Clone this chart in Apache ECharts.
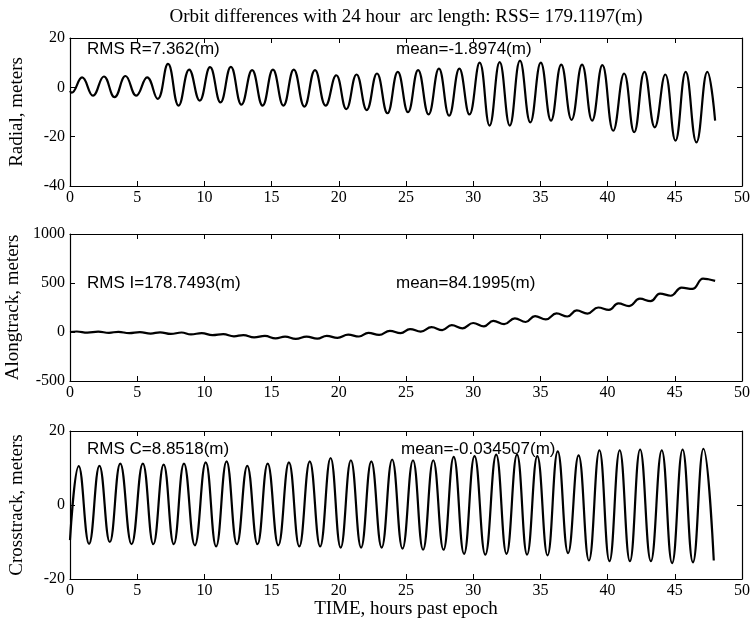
<!DOCTYPE html>
<html><head><meta charset="utf-8">
<script src="https://cdn.jsdelivr.net/npm/echarts@6/dist/echarts.min.js"></script>
<style>html,body{margin:0;padding:0;background:#fff}#c{width:753px;height:629px}</style>
</head><body><div id="c"></div>
<script>
// ---- data (extrema of each curve) ----
const xTicks = [0, 5, 10, 15, 20, 25, 30, 35, 40, 45, 50];
const radialTicks = [-40, -20, 0, 20];
const alongTicks = [-500, 0, 500, 1000];
const crossTicks = [-20, 0, 20];

const radialTime = [0.00,0.12,0.90,1.71,2.52,3.32,4.13,4.93,5.74,6.52,7.29,8.08,8.87,9.65,10.42,11.20,11.97,12.76,13.55,14.33,15.10,15.88,16.65,17.44,18.23,19.02,19.81,20.56,21.32,22.08,22.84,23.62,24.39,25.15,25.90,26.68,27.45,28.21,28.97,29.72,30.48,31.22,31.97,32.72,33.48,34.25,35.03,35.79,36.55,37.32,38.10,38.85,39.61,40.42,41.23,41.98,42.74,43.51,44.29,45.05,45.81,46.61,47.42,48.00];
const radialValue = [-1.5,-2.2,4.0,-3.4,4.4,-4.0,4.6,-3.4,4.0,-4.7,9.5,-7.4,7.2,-5.4,8.2,-6.1,8.3,-7.0,7.0,-7.4,7.2,-7.4,7.2,-7.8,7.0,-7.4,4.9,-8.8,5.2,-9.2,5.6,-10.5,6.3,-10.1,7.0,-11.0,7.6,-11.5,7.6,-11.0,10.0,-15.5,10.2,-15.5,10.8,-14.2,10.0,-13.5,9.2,-13.2,9.2,-13.5,9.0,-17.6,5.6,-18.2,6.3,-16.2,5.2,-21.6,6.3,-22.3,6.3,-13.5];

const alongTime = [0.0,0.5,1.3,2.1,2.9,3.6,4.4,5.2,6.0,6.7,7.5,8.3,9.0,9.8,10.6,11.4,12.2,12.9,13.7,14.5,15.3,16.0,16.8,17.6,18.4,19.1,19.9,20.7,21.5,22.2,23.0,23.8,24.6,25.3,26.1,26.9,27.7,28.4,29.2,30.0,30.8,31.5,32.3,33.1,33.9,34.6,35.4,36.2,37.0,37.7,38.5,39.3,40.1,40.8,41.6,42.4,43.2,43.9,44.7,45.5,46.3,47.1,47.5,48.0];
const alongValue = [0,5,-6,3,-8,2,-12,-2,-16,-3,-20,-5,-24,-12,-32,-22,-44,-31,-55,-40,-65,-47,-70,-47,-68,-40,-60,-27,-46,-8,-30,12,-12,30,4,49,20,70,38,92,58,114,80,140,102,162,128,190,158,220,188,250,225,292,265,340,315,392,370,452,440,545,538,522];

const crossTime = [0.00,0.65,1.42,2.19,2.96,3.74,4.58,5.42,6.20,6.97,7.72,8.48,9.29,10.10,10.87,11.65,12.42,13.19,13.95,14.71,15.50,16.29,17.06,17.84,18.61,19.39,20.14,20.90,21.66,22.42,23.19,23.97,24.74,25.52,26.27,27.03,27.79,28.55,29.32,30.10,30.90,31.71,32.48,33.26,34.01,34.77,35.53,36.29,37.06,37.84,38.61,39.39,40.14,40.90,41.66,42.42,43.22,44.03,44.80,45.58,46.35,47.13,47.90];
const crossValue = [-9.5,10.5,-10.5,10.6,-10.0,11.2,-10.6,11.2,-10.6,10.9,-10.6,11.2,-10.9,11.5,-11.2,11.8,-10.6,10.6,-10.6,11.2,-10.9,11.5,-11.2,11.8,-11.2,12.7,-11.5,12.1,-11.5,11.8,-11.5,12.3,-11.8,12.1,-12.1,12.1,-12.1,13.0,-13.2,13.2,-13.4,13.6,-13.2,13.6,-13.4,13.2,-13.6,14.5,-13.0,13.4,-15.0,14.8,-15.2,14.8,-15.2,15.0,-15.2,14.8,-15.7,15.0,-15.5,15.2,-15.0];

const titleText = 'Orbit differences with 24 hour  arc length: RSS= 179.1197(m)';
const yNames = ['Radial, meters', 'Alongtrack, meters', 'Crosstrack, meters'];
const xName = 'TIME, hours past epoch';
const notesLeft = ['RMS R=7.362(m)', 'RMS I=178.7493(m)', 'RMS C=8.8518(m)'];
const notesRight = ['mean=-1.8974(m)', 'mean=84.1995(m)', 'mean=-0.034507(m)'];

// ---- layout ----
const SERIF = '"Liberation Serif","Times New Roman",serif';
const SANS = '"Liberation Sans",Arial,sans-serif';
const grids = [
  {left: 70, right: 11, top: 38, height: 148, containLabel: false, outerBoundsMode: 'none'},
  {left: 70, right: 11, top: 234, height: 147, containLabel: false, outerBoundsMode: 'none'},
  {left: 70, right: 11, top: 431, height: 148, containLabel: false, outerBoundsMode: 'none'}
];
const yTickSets = [radialTicks, alongTicks, crossTicks];
const seriesData = [
  radialTime.map((t, i) => [t, radialValue[i]]),
  alongTime.map((t, i) => [t, alongValue[i]]),
  crossTime.map((t, i) => [t, crossValue[i]])
];

const axLine = {show: true, onZero: false, lineStyle: {color: '#000', width: 1.2}};
const tick = {show: true, inside: true, length: 5, lineStyle: {color: '#000', width: 1}};
const plain = v => String(v);
const xAxes = [], yAxes = [], series = [];
grids.forEach((g, i) => {
  const yt = yTickSets[i];
  xAxes.push({
    type: 'value', gridIndex: i, position: 'bottom',
    min: xTicks[0], max: xTicks[xTicks.length - 1], interval: xTicks[1] - xTicks[0],
    axisLine: axLine, axisTick: tick, splitLine: {show: false},
    axisLabel: {color: '#000', fontFamily: SERIF, fontSize: 16, margin: 4, formatter: plain},
    name: i === 2 ? xName : '', nameLocation: 'middle', nameGap: 18,
    nameTextStyle: {color: '#000', fontFamily: SERIF, fontSize: 19, verticalAlign: 'top'}
  });
  xAxes.push({
    type: 'value', gridIndex: i, position: 'top',
    min: xTicks[0], max: xTicks[xTicks.length - 1], interval: xTicks[1] - xTicks[0],
    axisLine: axLine, axisTick: tick, splitLine: {show: false}, axisLabel: {show: false}
  });
  yAxes.push({
    type: 'value', gridIndex: i, position: 'left',
    min: yt[0], max: yt[yt.length - 1], interval: yt[1] - yt[0],
    axisLine: axLine, axisTick: tick, splitLine: {show: false},
    axisLabel: {color: '#000', fontFamily: SERIF, fontSize: 16, margin: 5, formatter: plain},
    name: yNames[i], nameLocation: 'middle', nameRotate: 90, nameGap: 43,
    nameTextStyle: {color: '#000', fontFamily: SERIF, fontSize: 19}
  });
  yAxes.push({
    type: 'value', gridIndex: i, position: 'right',
    min: yt[0], max: yt[yt.length - 1], interval: yt[1] - yt[0],
    axisLine: axLine, axisTick: tick, splitLine: {show: false}, axisLabel: {show: false}
  });
  series.push({
    type: 'line', xAxisIndex: 2 * i, yAxisIndex: 2 * i,
    data: seriesData[i], showSymbol: false, smooth: 0.45,
    lineStyle: {color: '#000', width: 2.2}, silent: true, animation: false
  });
});

const noteY = [49, 283, 449];
const graphics = [];
notesLeft.forEach((t, i) => {
  graphics.push({type: 'text', x: 87, y: noteY[i],
    style: {text: t, font: '17px ' + SANS, fill: '#000', textVerticalAlign: 'middle'}});
  graphics.push({type: 'text', x: i === 2 ? 401 : 396, y: noteY[i],
    style: {text: notesRight[i], font: '17px ' + SANS, fill: '#000', textVerticalAlign: 'middle'}});
});
graphics.push({type: 'text', x: 406, y: 17,
  style: {text: titleText, font: '19px ' + SERIF, fill: '#000', textAlign: 'center', textVerticalAlign: 'middle'}});

const chart = echarts.init(document.getElementById('c'), null, {renderer: 'canvas'});
chart.setOption({
  animation: false,
  backgroundColor: '#fff',
  grid: grids,
  xAxis: xAxes,
  yAxis: yAxes,
  series: series,
  graphic: graphics
});
</script>
</body></html>
